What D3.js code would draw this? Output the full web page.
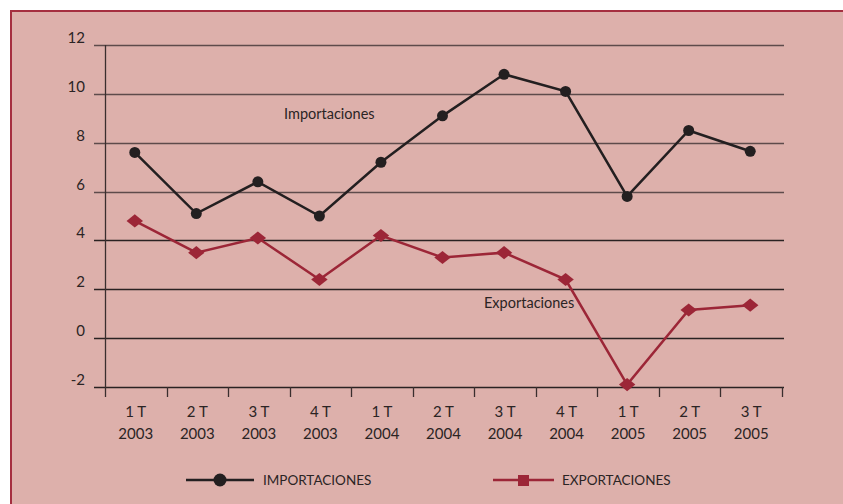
<!DOCTYPE html>
<html>
<head>
<meta charset="utf-8">
<script src="https://cdn.jsdelivr.net/npm/d3@7"></script>
<style>
  body { margin: 0; background: #fff; }
  svg { display: block; font-family: Lato, "DejaVu Sans", sans-serif; }
</style>
</head>
<body>
<div id="chart"></div>
<script>
const quarters = ["1 T", "2 T", "3 T", "4 T", "1 T", "2 T", "3 T", "4 T", "1 T", "2 T", "3 T"];
const years = ["2003", "2003", "2003", "2003", "2004", "2004", "2004", "2004", "2005", "2005", "2005"];
const importaciones = [7.6, 5.1, 6.4, 5.0, 7.2, 9.1, 10.8, 10.1, 5.8, 8.5, 7.65];
const exportaciones = [4.8, 3.5, 4.1, 2.4, 4.2, 3.3, 3.5, 2.4, -1.9, 1.15, 1.35];
const yTicks = [-2, 0, 2, 4, 6, 8, 10, 12];

const width = 843;
const height = 504;
const margin = {top: 45, right: 61, bottom: 117, left: 105};

const svg = d3.select("#chart").append("svg")
    .attr("width", width)
    .attr("height", height);

// panel
svg.append("rect")
    .attr("x", 11).attr("y", 11)
    .attr("width", width).attr("height", height)
    .attr("fill", "#ddb0ab")
    .attr("stroke", "#a52f40")
    .attr("stroke-width", 2);

const keys = d3.range(quarters.length);
const x = d3.scaleBand()
    .domain(keys)
    .range([margin.left, width - margin.right]);

const y = d3.scaleLinear()
    .domain([-2, 12])
    .range([height - margin.bottom, margin.top]);

// grid + y labels
const grid = svg.append("g");
grid.selectAll("line")
    .data(yTicks)
    .enter().append("line")
    .attr("x1", margin.left - 11)
    .attr("x2", width - margin.right + 2)
    .attr("y1", d => Math.round(y(d)) + 0.5)
    .attr("y2", d => Math.round(y(d)) + 0.5)
    .attr("stroke", d => d >= 6 ? "#5e4b4b" : "#2a2222")
    .attr("stroke-width", 1.3);

grid.selectAll("text")
    .data(yTicks)
    .enter().append("text")
    .attr("x", margin.left - 20)
    .attr("y", d => y(d) - 2)
    .attr("text-anchor", "end")
    .attr("font-size", 15)
    .attr("fill", "#2b2424")
    .text(d => d);

// vertical axis line
svg.append("line")
    .attr("x1", margin.left + 0.5).attr("x2", margin.left + 0.5)
    .attr("y1", margin.top).attr("y2", y(-2) + 10)
    .attr("stroke", "#3a2e2e").attr("stroke-width", 1.3);

// x ticks
svg.append("g").selectAll("line")
    .data(d3.range(1, quarters.length + 1))
    .enter().append("line")
    .attr("x1", d => Math.round(x.range()[0] + d * x.bandwidth()) + 0.5)
    .attr("x2", d => Math.round(x.range()[0] + d * x.bandwidth()) + 0.5)
    .attr("y1", y(-2))
    .attr("y2", y(-2) + 10)
    .attr("stroke", "#3a2e2e").attr("stroke-width", 1.3);

const xl = svg.append("g").selectAll("text")
    .data(keys)
    .enter().append("text")
    .attr("text-anchor", "middle")
    .attr("font-size", 15)
    .attr("fill", "#2b2424");
xl.append("tspan")
    .attr("x", d => x(d) + x.bandwidth() / 2)
    .attr("y", 417)
    .text(d => quarters[d]);
xl.append("tspan")
    .attr("x", d => x(d) + x.bandwidth() / 2)
    .attr("y", 439)
    .text(d => years[d]);

const cx = i => x(i) + x.bandwidth() / 2 - 1;
const line = d3.line().x((d, i) => cx(i)).y(d => y(d));

// exportaciones
svg.append("path")
    .datum(exportaciones)
    .attr("d", line)
    .attr("fill", "none")
    .attr("stroke", "#9c2637")
    .attr("stroke-width", 2.5);
svg.append("g").selectAll("path")
    .data(exportaciones)
    .enter().append("path")
    .attr("d", d3.symbol(d3.symbolDiamond2, 110))
    .attr("transform", (d, i) => `translate(${cx(i)},${y(d)}) scale(1.25,1)`)
    .attr("fill", "#9c2637");

// importaciones
svg.append("path")
    .datum(importaciones)
    .attr("d", line)
    .attr("fill", "none")
    .attr("stroke", "#231f20")
    .attr("stroke-width", 2.5);
svg.append("g").selectAll("circle")
    .data(importaciones)
    .enter().append("circle")
    .attr("cx", (d, i) => cx(i))
    .attr("cy", d => y(d))
    .attr("r", 5.5)
    .attr("fill", "#231f20");

// inline labels
svg.append("text")
    .attr("x", 284).attr("y", 119)
    .attr("font-size", 14.5).attr("fill", "#2b2424")
    .text("Importaciones");
svg.append("text")
    .attr("x", 484).attr("y", 308)
    .attr("font-size", 14.5).attr("fill", "#2b2424")
    .text("Exportaciones");

// legend
const legend = svg.append("g");
legend.append("line")
    .attr("x1", 186).attr("x2", 254).attr("y1", 480).attr("y2", 480)
    .attr("stroke", "#231f20").attr("stroke-width", 2.5);
legend.append("circle")
    .attr("cx", 220).attr("cy", 480).attr("r", 6.5)
    .attr("fill", "#231f20");
legend.append("text")
    .attr("x", 263).attr("y", 485)
    .attr("font-size", 13.5).attr("fill", "#2b2424")
    .text("IMPORTACIONES");

legend.append("line")
    .attr("x1", 493).attr("x2", 554).attr("y1", 480).attr("y2", 480)
    .attr("stroke", "#9c2637").attr("stroke-width", 2.5);
legend.append("rect")
    .attr("x", 518).attr("y", 475).attr("width", 11).attr("height", 11)
    .attr("fill", "#9c2637");
legend.append("text")
    .attr("x", 562).attr("y", 485)
    .attr("font-size", 13.5).attr("fill", "#2b2424")
    .text("EXPORTACIONES");
</script>
</body>
</html>
